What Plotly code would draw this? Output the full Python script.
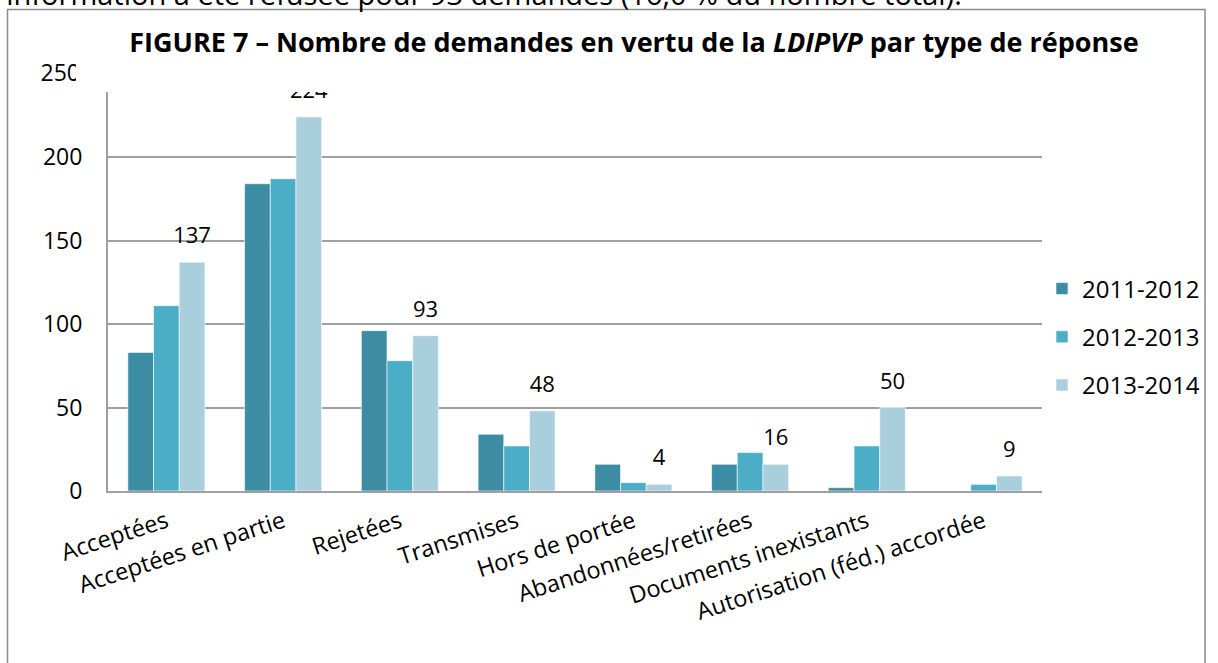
import plotly.graph_objects as go

W, H = 1218, 663

categories = ["Acceptées", "Acceptées en partie", "Rejetées", "Transmises",
              "Hors de portée", "Abandonnées/retirées", "Documents inexistants",
              "Autorisation (féd.) accordée"]
series_names = ["2011-2012", "2012-2013", "2013-2014"]
v2011 = [83, 184, 96, 34, 16, 16, 2, 0]
v2012 = [111, 187, 78, 27, 5, 23, 27, 4]
v2013 = [137, 224, 93, 48, 4, 16, 50, 9]
colors = ["#3C8CA3", "#4BADC6", "#A9CFDD"]
y_ticks = [0, 50, 100, 150, 200]
top_tick = 250

FONT = "Open Sans"

def px_x(p):
    return p / W

def px_y(p):
    return 1 - p / H

fig = go.Figure()
all_vals = [v2011, v2012, v2013]
for i, (name, vals) in enumerate(zip(series_names, all_vals)):
    fig.add_trace(go.Bar(
        x=categories, y=vals, name=name, legendgroup=name, offsetgroup=f"g{i}",
        marker=dict(color=colors[i], line=dict(color="rgba(255,255,255,0.6)", width=1))))

# data labels for the last series (clipped by the plot area like the reference)
fig.add_trace(go.Scatter(
    x=categories, y=v2013, mode="markers+text", offsetgroup="g2",
    text=[str(v) for v in v2013], textposition="top center",
    textfont=dict(family=FONT, size=22, color="#000000"),
    marker=dict(size=20, opacity=0), showlegend=False, hoverinfo="skip",
    cliponaxis=True))

fig.update_layout(
    width=W, height=H,
    margin=dict(l=0, r=0, t=0, b=0, autoexpand=False),
    paper_bgcolor="white", plot_bgcolor="white",
    barmode="group", bargap=0.34, bargroupgap=0,
    scattermode="group", scattergap=0.34,
    font=dict(family=FONT, size=20, color="#000000"),
    showlegend=True,
    legend=dict(x=px_x(1042), y=px_y(337), xanchor="left", yanchor="middle",
                font=dict(family=FONT, size=24), tracegroupgap=14,
                traceorder="grouped", bgcolor="rgba(0,0,0,0)"),
    xaxis=dict(domain=[px_x(108), px_x(1042)], tickangle=-18, automargin=False,
               showline=True, linecolor="#A0A0A0", linewidth=2,
               tickfont=dict(family=FONT, size=23.5), ticks="", ticklabelstandoff=6),
    yaxis=dict(domain=[px_y(491), px_y(92)], range=[0, (491 - 92) / 1.67], automargin=False,
               tickvals=y_ticks, ticktext=[str(t) for t in y_ticks],
               showgrid=True, gridcolor="#A0A0A0", gridwidth=1.5,
               showline=True, linecolor="#A0A0A0", linewidth=2,
               zeroline=False, ticks="", ticklabelstandoff=19,
               tickfont=dict(family=FONT, size=23)),
    title=dict(
        text="<b>FIGURE 7 – Nombre de demandes en vertu de la <i>LDIPVP</i> par type de réponse</b>",
        x=px_x(634), xanchor="center", y=px_y(43), yanchor="middle",
        font=dict(family=FONT, size=27, color="#000000")),
)

# top tick label "250", partly hidden as in the reference
fig.add_shape(type="rect", xref="paper", yref="paper",
              x0=px_x(10), x1=px_x(86), y0=px_y(88), y1=px_y(59),
              fillcolor="rgba(0,0,0,0)", line=dict(width=0), layer="below",
              label=dict(text=str(top_tick), textposition="middle right", padding=3,
                         font=dict(family=FONT, size=23, color="#000000")))
fig.add_shape(type="rect", xref="paper", yref="paper",
              x0=px_x(76), x1=px_x(104), y0=px_y(91), y1=px_y(56),
              fillcolor="white", line=dict(width=0), layer="above")
# frame around the chart
fig.add_shape(type="rect", xref="paper", yref="paper",
              x0=px_x(7.5), x1=px_x(1205), y0=-0.2, y1=px_y(9.5),
              fillcolor="rgba(0,0,0,0)", line=dict(color="#8C8C8C", width=1.5), layer="above")

# clipped line of body text above the chart
fig.add_annotation(text="l’information a été refusée pour 93 demandes (16,0 % du nombre total).",
                   xref="paper", yref="paper", x=px_x(-8), y=px_y(-7),
                   xanchor="left", yanchor="middle", showarrow=False,
                   font=dict(family=FONT, size=29, color="#000000"))

fig.write_html("out.html", config={"displayModeBar": False},
               post_script="document.body.style.margin='0px';")
